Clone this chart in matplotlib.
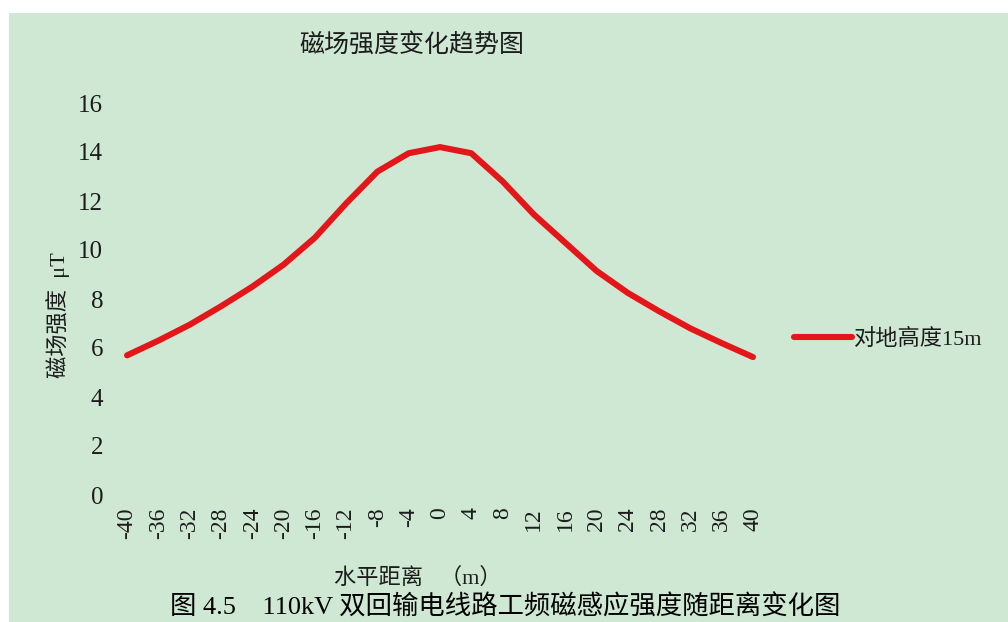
import matplotlib.pyplot as plt
from matplotlib.patches import Rectangle

# 水平距离 (m) 与 磁场强度 (μT)
distance = [-40, -36, -32, -28, -24, -20, -16, -12, -8, -4, 0,
            4, 8, 12, 16, 20, 24, 28, 32, 36, 40]
field = [5.7, 6.3, 6.95, 7.7, 8.5, 9.4, 10.5, 11.9, 13.2, 13.95, 14.2,
         13.95, 12.8, 11.45, 10.3, 9.15, 8.25, 7.5, 6.8, 6.2, 5.63]
yticks = [0, 2, 4, 6, 8, 10, 12, 14, 16]
series_name = '对地高度15m'

bg = '#cfe8d3'
ink = '#1c1c1c'
serif_cjk = ['Liberation Serif', 'Noto Sans CJK SC']
plt.rcParams['font.family'] = ['Noto Sans CJK SC', 'DejaVu Sans']

fig = plt.figure(figsize=(10.08, 6.22), dpi=100)
fig.patch.set_facecolor('white')
fig.patches.append(Rectangle((9 / 1008, 0), 1, 1 - 13 / 622,
                             transform=fig.transFigure, facecolor=bg,
                             edgecolor='none', zorder=-10))

ax = fig.add_axes([120 / 1008, 1 - 495 / 622, 640 / 1008, 392 / 622])
ax.set_facecolor('none')
line, = ax.plot(distance, field, color='#e5161a', lw=4.4,
                solid_capstyle='round', solid_joinstyle='round')

ax.set_xlim(-40.9, 40.9)
ax.set_ylim(0, 16)
ax.set_xticks(distance)
ax.set_xticklabels([str(d) for d in distance], rotation=90,
                   family='Liberation Serif', fontsize=17, color=ink)
ax.set_yticks(yticks)
ax.set_yticklabels([str(t) for t in yticks], family='Liberation Serif',
                   fontsize=18, color=ink)
ax.tick_params(length=0)
ax.tick_params(axis='y', pad=12)
ax.tick_params(axis='x', pad=9)
for s in ax.spines.values():
    s.set_visible(False)

fig.text(412 / 1008, 1 - 45 / 622, '磁场强度变化趋势图', fontsize=18,
         color=ink, ha='center', va='center')
fig.text(58 / 1008, 1 - 315 / 622, '磁场强度  μT', fontsize=16,
         color=ink, ha='center', va='center', rotation=90,
         family=serif_cjk)
fig.text(418 / 1008, 1 - 578 / 622, '水平距离   （m）', fontsize=16,
         color=ink, ha='center', va='center', family=serif_cjk)
fig.text(505 / 1008, 1 - 607 / 622,
         '图 4.5    110kV 双回输电线路工频磁感应强度随距离变化图',
         fontsize=19, color='black', ha='center', va='center',
         family=serif_cjk)

ax.legend([line], [series_name], loc='center left',
          bbox_to_anchor=(785 / 1008, 1 - 339 / 622),
          bbox_transform=fig.transFigure, frameon=False,
          handlelength=2.6, handletextpad=0.1, borderaxespad=0,
          prop={'family': serif_cjk, 'size': 16}, labelcolor=ink)

fig.savefig('out.png', dpi=100, facecolor=fig.get_facecolor())
